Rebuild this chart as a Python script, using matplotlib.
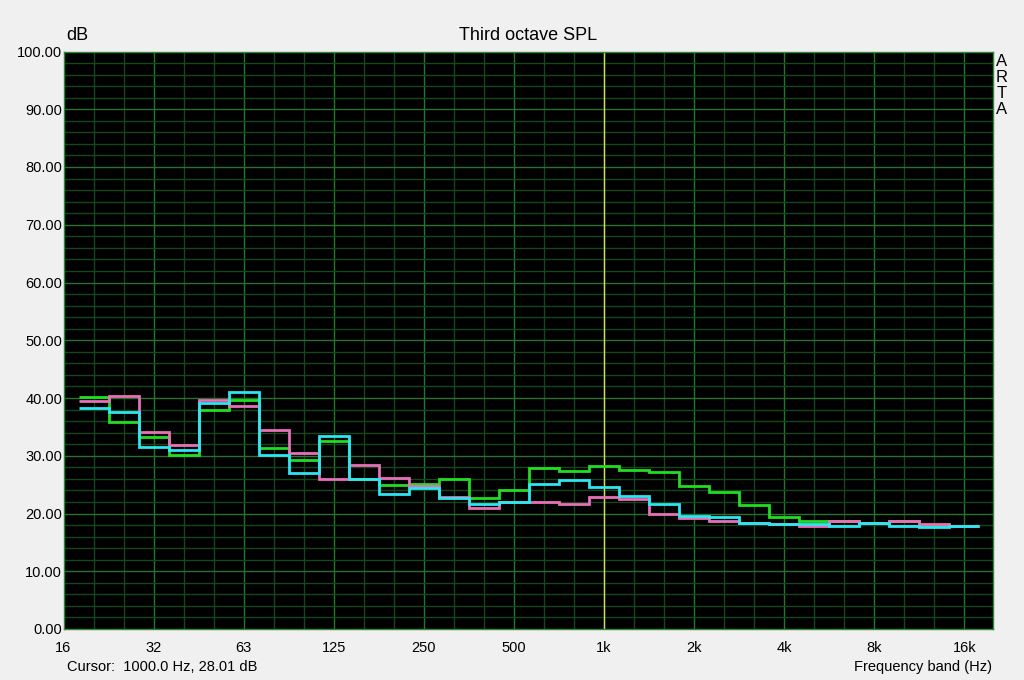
import numpy as np
import matplotlib
matplotlib.use("Agg")
import matplotlib.pyplot as plt

plt.rcParams['font.family'] = ['Liberation Sans', 'DejaVu Sans']

# third octave bands (nominal), 20 Hz .. 16 kHz
bands = ['20', '25', '31.5', '40', '50', '63', '80', '100', '125', '160',
         '200', '250', '315', '400', '500', '630', '800', '1k', '1.25k', '1.6k',
         '2k', '2.5k', '3.15k', '4k', '5k', '6.3k', '8k', '10k', '12.5k', '16k']

spl_green = [40.1, 35.9, 33.2, 30.1, 37.9, 39.6, 31.3, 29.2, 32.5, 25.9,
             24.9, 25.1, 25.9, 22.7, 24.1, 27.8, 27.3, 28.2, 27.5, 27.1,
             24.8, 23.7, 21.4, 19.4, 18.7, 18.7, 18.4, 18.7, 18.0, 17.8]
spl_pink = [39.4, 40.3, 34.1, 31.8, 39.6, 38.7, 34.4, 30.5, 26.0, 28.4,
            26.1, 24.8, 22.9, 20.9, 22.0, 22.0, 21.6, 22.9, 22.5, 20.0,
            19.2, 18.7, 18.3, 18.1, 17.8, 18.7, 18.4, 18.7, 18.1, 17.8]
spl_cyan = [38.2, 37.6, 31.5, 31.0, 39.2, 41.1, 30.2, 27.0, 33.5, 25.9,
            23.4, 24.4, 22.6, 21.6, 22.0, 25.1, 25.8, 24.6, 23.1, 21.6,
            19.6, 19.4, 18.3, 18.1, 18.1, 17.8, 18.4, 17.8, 17.7, 17.8]

tick_labels = ['16', '32', '63', '125', '250', '500', '1k', '2k', '4k', '8k', '16k']

# ARTA places bands on a base-2 grid starting at 16 Hz
centres = 16.0 * 2.0 ** ((np.arange(len(bands)) + 1) / 3)
edges = np.append(centres * 2 ** (-1 / 6), centres[-1] * 2 ** (1 / 6))
cursor_f = centres[bands.index('1k')]

fig = plt.figure(figsize=(10.24, 6.8), dpi=100, facecolor='#f0f0f0')
ax = fig.add_axes([63.5 / 1024, 51 / 680, 929 / 1024, 577.5 / 680])
ax.set_facecolor('black')
ax.set_xscale('log')
ax.set_xlim(16, 16 * 2 ** 10.314)
ax.set_ylim(0, 100)

# grid: minor every 1/3 octave and 2 dB, major every octave and 10 dB
for j in range(1, 31):
    f = 16 * 2 ** (j / 3)
    major = j % 3 == 0
    ax.axvline(f, color='#1f7a2a' if major else '#16461c', lw=1, zorder=1)
for v in range(2, 100, 2):
    major = v % 10 == 0
    ax.axhline(v, color='#2a7030' if major else '#16461c', lw=1, zorder=1)
ax.axvline(cursor_f, color='#dcdc50', lw=1, zorder=1.5)

ax.stairs(spl_green, edges, color='#22dd22', lw=2, zorder=2, baseline=None)
ax.stairs(spl_pink, edges, color='#e870b8', lw=2, zorder=3, baseline=None)
ax.stairs(spl_cyan, edges, color='#2ee6f0', lw=2, zorder=4, baseline=None)

for s in ax.spines.values():
    s.set_color('#2a8a35')
    s.set_linewidth(1)

ax.set_xticks([16 * 2 ** n for n in range(len(tick_labels))])
ax.set_xticklabels(tick_labels)
ax.minorticks_off()
ax.set_yticks(np.arange(0, 101, 10))
ax.set_yticklabels([f'{v:.2f}' for v in range(0, 101, 10)])
ax.tick_params(length=0, labelsize=10.5, pad=1)
ax.tick_params(axis='x', pad=9)

fig.text(528 / 1024, 1 - 36 / 680, 'Third octave SPL', ha='center', va='center', fontsize=13)
fig.text(66 / 1024, 1 - 36 / 680, 'dB', ha='left', va='center', fontsize=13)
for i, ch in enumerate('ARTA'):
    fig.text(1002 / 1024, 1 - (61 + i * 16) / 680, ch, ha='center', va='center', fontsize=12)
fig.text(67 / 1024, 1 - 667 / 680, 'Cursor:  1000.0 Hz, 28.01 dB', ha='left', va='center', fontsize=10.5)
fig.text(992 / 1024, 1 - 667 / 680, 'Frequency band (Hz)', ha='right', va='center', fontsize=10.5)

fig.savefig('out.png', dpi=100, facecolor=fig.get_facecolor())
